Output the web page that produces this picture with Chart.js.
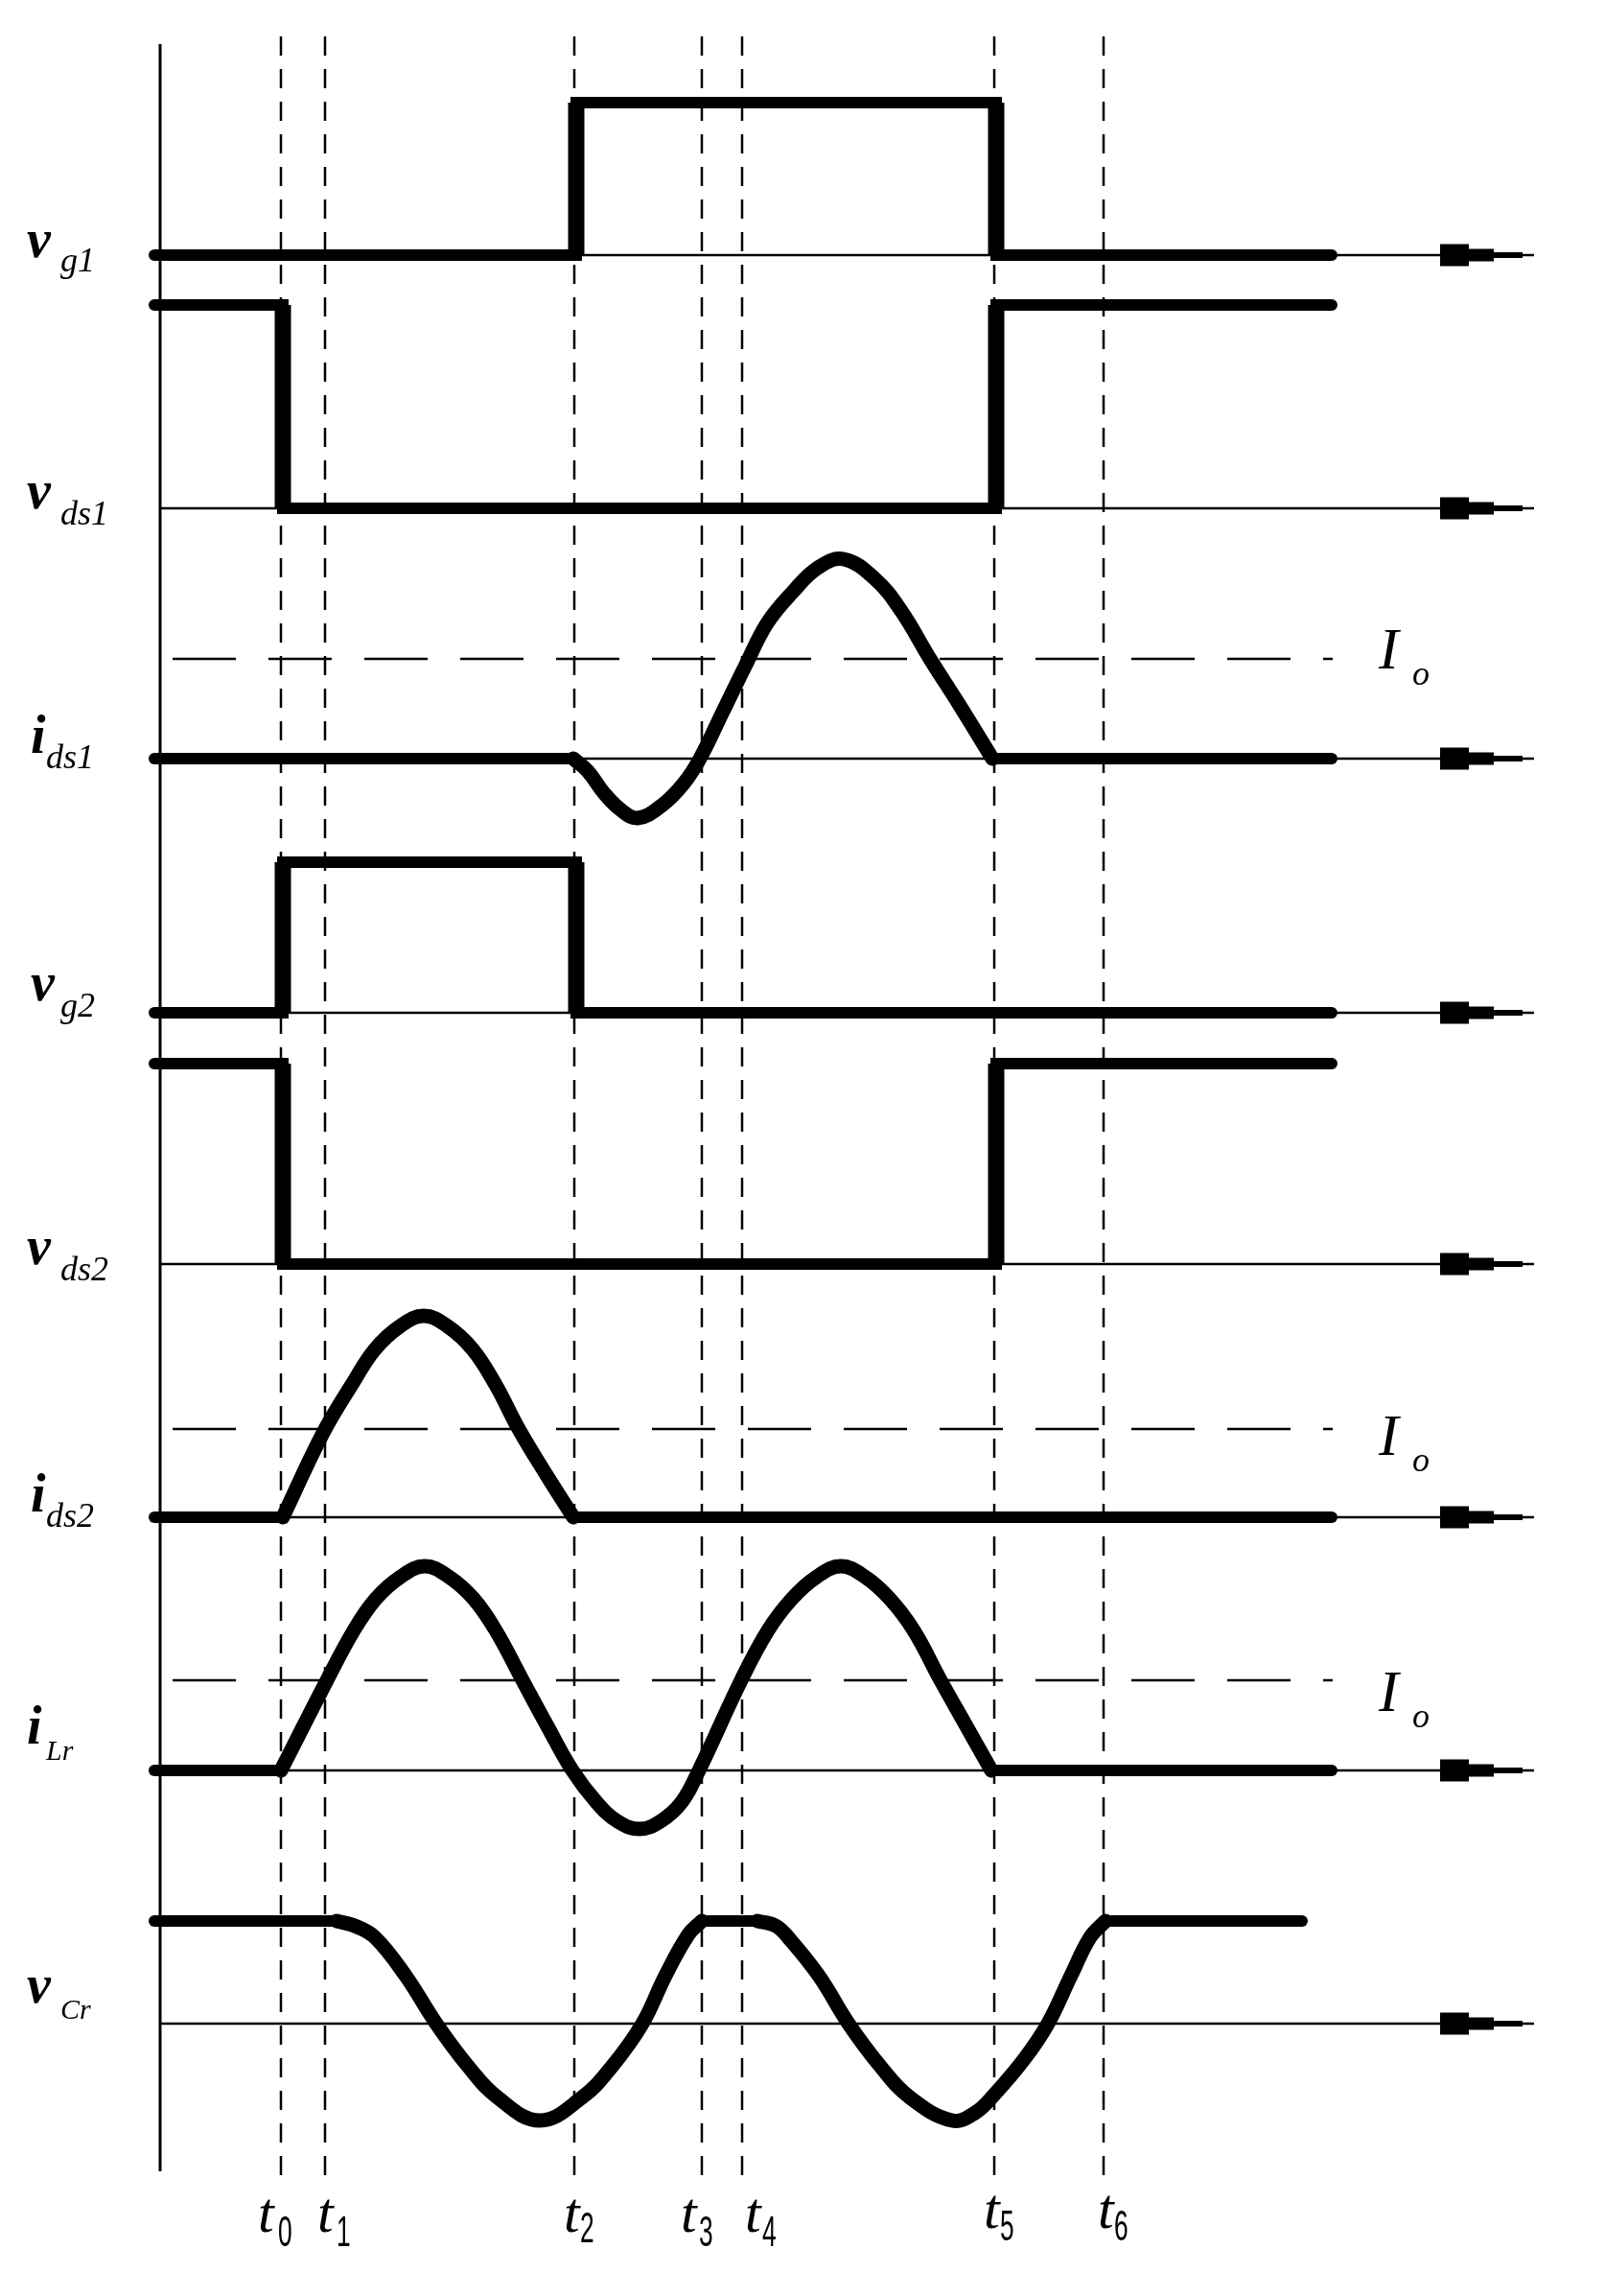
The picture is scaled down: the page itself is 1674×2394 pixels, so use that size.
<!DOCTYPE html>
<html><head><meta charset="utf-8">
<script src="https://cdn.jsdelivr.net/npm/chart.js@4.4.1/dist/chart.umd.min.js"></script>
<style>html,body{margin:0;padding:0;background:#fff;}canvas{display:block;}</style>
</head><body>
<canvas id="c" width="1674" height="2394"></canvas>
<script>
// ---------- DATA (time in arbitrary units, t0 = 0; amplitudes in arbitrary units) ----------
const tNames = ['0','1','2','3','4','5','6'];
const tMarks = [0.01, 0.47, 3.07, 4.40, 4.82, 7.45, 8.59];

const rowMain = ['v','v','i','v','v','i','i','v'];
const rowSub  = ['g1','ds1','ds1','g2','ds2','ds2','Lr','Cr'];

// gate / drain-source voltages (square waves)
const vg1  = [[-1.31,0],[3.09,0],[3.09,1.59],[7.47,1.59],[7.47,0],[10.97,0]];
const vds1 = [[-1.31,2.12],[0.03,2.12],[0.03,0],[7.47,0],[7.47,2.12],[10.97,2.12]];
const vg2  = [[-1.31,0],[0.03,0],[0.03,1.57],[3.09,1.57],[3.09,0],[10.97,0]];
const vds2 = [[-1.31,2.09],[0.03,2.09],[0.03,0],[7.47,0],[7.47,2.09],[10.97,2.09]];

// currents (pieces: flat / resonant / flat)
const ids1 = [
  [[-1.31,0],[3.06,0]],
  [[3.06,0],[3.21,-0.13],[3.38,-0.36],[3.55,-0.53],[3.73,-0.62],[3.98,-0.49],[4.21,-0.26],[4.38,0],
   [4.61,0.47],[4.85,0.96],[5.08,1.41],[5.35,1.74],[5.61,1.99],[5.88,2.08],[6.21,1.87],[6.48,1.54],
   [6.78,1.04],[7.08,0.57],[7.43,0]],
  [[7.43,0],[10.97,0]]
];
const ids2 = [
  [[-1.31,0],[0.03,0]],
  [[0.03,0],[0.45,0.88],[0.76,1.40],[0.99,1.75],[1.25,1.99],[1.50,2.10],[1.75,1.99],[2.01,1.75],
   [2.25,1.38],[2.49,0.92],[2.78,0.44],[3.06,0]],
  [[3.06,0],[10.97,0]]
];
const iLr = [
  [[-1.31,0],[0.01,0]],
  [[0.01,0],[0.49,0.94],[0.77,1.46],[1.00,1.79],[1.26,2.02],[1.51,2.13],[1.76,2.02],[2.02,1.79],
   [2.25,1.46],[2.53,0.94],[2.79,0.46],[3.05,0],[3.30,-0.33],[3.52,-0.53],[3.75,-0.61],[3.97,-0.53],
   [4.19,-0.33],[4.37,0],[4.81,0.94],[5.09,1.46],[5.34,1.79],[5.60,2.02],[5.85,2.13],[6.10,2.02],
   [6.36,1.79],[6.61,1.46],[6.89,0.94],[7.16,0.46],[7.42,0]],
  [[7.42,0],[10.97,0]]
];
// resonant capacitor voltage (flat / resonant / flat / resonant / flat)
const vCr = [
  [[-1.31,1.07],[0.59,1.07]],
  [[0.59,1.07],[0.78,1.02],[0.99,0.90],[1.31,0.50],[1.63,0],[1.95,-0.43],[2.27,-0.77],[2.71,-1.01],
   [3.15,-0.77],[3.46,-0.45],[3.78,0],[4.02,0.50],[4.26,0.93],[4.40,1.07]],
  [[4.40,1.07],[4.98,1.07]],
  [[4.98,1.07],[5.17,1.02],[5.30,0.90],[5.62,0.50],[5.93,0],[6.25,-0.43],[6.57,-0.77],[7.01,-1.01],
   [7.25,-0.93],[7.45,-0.74],[7.77,-0.36],[8.01,0],[8.25,0.50],[8.45,0.90],[8.61,1.07]],
  [[8.61,1.07],[10.66,1.07]]
];

// I_o reference levels for ids1, ids2, iLr
const ioLevels = [1.04, 0.92, 0.94];
const ioRows = [2, 5, 6];

// ---------- LAYOUT ----------
const X_MIN = -2.92, X_MAX = 13.82, Y_MAX = 23.94;
const ROW_BASE = [2.66, 5.30, 7.91, 10.56, 13.18, 15.82, 18.46, 21.10];
const AXIS_T = -1.25, AXIS_TOP = 0.46, AXIS_BOT = 22.64;
const LINE_END_T = 13.08, IO_START = -1.12, IO_END = 10.98;
const DASH_TOP = 0.38, DASH_BOT = 22.68;

const toPts = (arr, row) => arr.map(([t, v]) => ({x: t, y: ROW_BASE[row] - v}));

const datasets = [];
const thick = {borderColor:'#000', pointRadius:0, fill:false, order:0};

function addSquare(arr, row) {
  datasets.push(Object.assign({}, thick, {data: toPts(arr, row), borderWidth:12, tension:0, borderCapStyle:'round', borderJoinStyle:'miter'}));
  for (let k = 0; k < arr.length - 1; k++) {
    if (arr[k][0] === arr[k+1][0]) {
      datasets.push(Object.assign({}, thick, {data: toPts([arr[k], arr[k+1]], row), borderWidth:17, borderCapStyle:'butt', tension:0}));
    }
  }
}
function addPieces(pieces, row) {
  pieces.forEach(p => datasets.push(Object.assign({}, thick, {data: toPts(p, row), borderWidth: p.length > 2 ? 15 : 12, tension:0.4, borderCapStyle:'round', borderJoinStyle:'round'})));
}
addSquare(vg1, 0); addSquare(vds1, 1); addPieces(ids1, 2);
addSquare(vg2, 3); addSquare(vds2, 4); addPieces(ids2, 5); addPieces(iLr, 6);
addPieces(vCr, 7);

// thin baselines
ROW_BASE.forEach(b => datasets.push({data:[{x:AXIS_T,y:b},{x:LINE_END_T,y:b}], borderColor:'#000', borderWidth:2.5, pointRadius:0, tension:0, order:1}));
// vertical axis
datasets.push({data:[{x:AXIS_T,y:AXIS_TOP},{x:AXIS_T,y:AXIS_BOT}], borderColor:'#000', borderWidth:3, pointRadius:0, tension:0, order:1});
// I_o dashed lines
ioLevels.forEach((lv, k) => datasets.push({data:[{x:IO_START,y:ROW_BASE[ioRows[k]]-lv},{x:IO_END,y:ROW_BASE[ioRows[k]]-lv}], borderColor:'#000', borderWidth:2.5, borderDash:[66,34], pointRadius:0, tension:0, order:2}));
// vertical dashed time marks
tMarks.forEach(t => datasets.push({data:[{x:t,y:DASH_TOP},{x:t,y:DASH_BOT}], borderColor:'#000', borderWidth:2.5, borderDash:[20,14], pointRadius:0, tension:0, order:2}));

// ---------- TEXT LAYOUT ----------
const LABEL_MAIN_X = [28,28,32,32,28,32,28,28];
const LABEL_MAIN_DY = [2,0,-6,-13,0,-6,-28,-22];
const LABEL_SUB_X = [63,63,48,63,63,48,48,63];
const LABEL_SUB_DY = [17,17,10,4,17,10,-11,-5];
const LABEL_SUB_SIZE = [36,36,36,36,36,36,30,30];
const IO_DY = [-94,-65,-62];
const T_X = [269,331,588,710,777,1026,1145];
const T_SUB_X = [290,351,605,729,795,1043,1162];
const T_BASE = [2327,2327,2327,2327,2327,2323,2323];
const T_SUB_BASE = [2342,2342,2338,2342,2342,2336,2336];

const decor = {
  id: 'decor',
  beforeDraw(chart) {
    const c = chart.ctx; c.save(); c.fillStyle = '#fff'; c.fillRect(0,0,chart.width,chart.height); c.restore();
  },
  afterDatasetsDraw(chart) {
    const c = chart.ctx, xs = chart.scales.x, ys = chart.scales.y;
    c.save(); c.fillStyle = '#000';
    const steps = [[12.10,12.40,11.5],[12.40,12.66,6.5],[12.66,12.96,3]];
    ROW_BASE.forEach(b => {
      const y = ys.getPixelForValue(b);
      steps.forEach(([a, e, h]) => {
        const x1 = xs.getPixelForValue(a), x2 = xs.getPixelForValue(e);
        c.fillRect(x1, y - h, x2 - x1, 2*h);
      });
    });
    c.restore();
  },
  afterDraw(chart) {
    const c = chart.ctx, ys = chart.scales.y;
    c.save(); c.fillStyle = '#000'; c.textAlign = 'left'; c.textBaseline = 'alphabetic';
    ROW_BASE.forEach((b, i) => {
      const y = ys.getPixelForValue(b);
      c.font = 'bold italic 56px "Liberation Serif", "Times New Roman", serif';
      c.fillText(rowMain[i], LABEL_MAIN_X[i], y + LABEL_MAIN_DY[i]);
      c.font = 'italic ' + LABEL_SUB_SIZE[i] + 'px "Liberation Serif", "Times New Roman", serif';
      c.fillText(rowSub[i], LABEL_SUB_X[i], y + LABEL_SUB_DY[i]);
    });
    ioRows.forEach((r, k) => {
      const y = ys.getPixelForValue(ROW_BASE[r]);
      c.font = 'italic 62px "Liberation Serif", serif';
      c.fillText('I', 1438, y + IO_DY[k]);
      c.font = 'italic 36px "Liberation Serif", serif';
      c.fillText('o', 1473, y + IO_DY[k] + 17);
    });
    tNames.forEach((n, i) => {
      c.font = 'italic 60px "Liberation Serif", serif';
      c.fillText('t', T_X[i], T_BASE[i]);
      c.save();
      c.translate(T_SUB_X[i], T_SUB_BASE[i]);
      c.scale(0.6, 1);
      c.font = '44px "Liberation Sans", sans-serif';
      c.fillText(n, 0, 0);
      c.restore();
    });
    c.restore();
  }
};

new Chart(document.getElementById('c'), {
  type: 'line',
  data: { datasets },
  options: {
    responsive: false, animation: false, devicePixelRatio: 1,
    layout: { padding: 0 },
    plugins: { legend: {display:false}, tooltip: {enabled:false} },
    elements: { point: { radius: 0 } },
    scales: {
      x: { type:'linear', min:X_MIN, max:X_MAX, display:false },
      y: { type:'linear', min:0, max:Y_MAX, reverse:true, display:false }
    }
  },
  plugins: [decor]
});
</script>
</body></html>
